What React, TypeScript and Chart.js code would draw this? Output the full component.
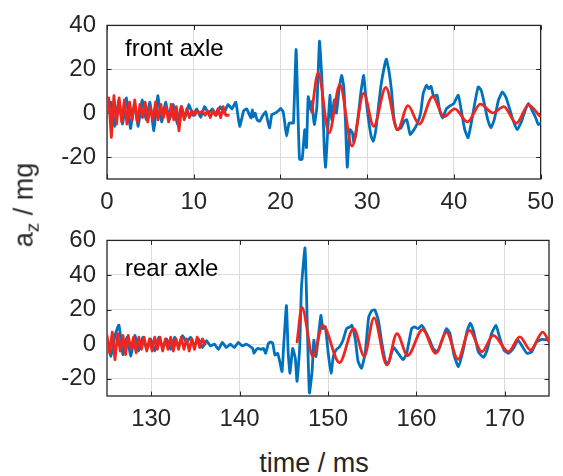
import React, { useEffect, useRef } from "react";
import { Chart, registerables } from "chart.js";

Chart.register(...registerables);

// ---------- DATA ----------
// front axle (top panel)
const frontXTicks = [0, 10, 20, 30, 40, 50];
const frontYTicks = [-20, 0, 20, 40];

const frontMeasTime = [
  0, 0.45, 0.9, 1.35, 1.8, 2.25, 2.7, 3.15, 3.6, 4.05, 4.5, 4.95, 5.4, 5.85, 6.3, 6.75, 7.2, 7.65,
  8.1, 8.55, 9.0, 9.45, 9.9, 10.35, 10.8, 11.25, 11.7, 12.15, 12.6, 13.05, 13.5, 13.95, 14.4, 14.85,
  15.3, 15.75, 16.1,
  16.6, 16.75, 16.9, 17.1, 17.3, 17.6, 17.9, 18.3, 18.5, 18.75, 19.0, 19.4, 19.8, 20.0, 20.3, 20.5,
  20.7, 21.0, 21.3, 21.5, 21.8, 22.0, 22.2, 22.5, 22.8, 23.0, 23.2, 23.5, 23.6, 23.9, 24.2, 24.5,
  24.8, 25.05, 25.2, 25.5, 25.7, 25.9, 26.2, 26.45, 26.75, 27.05, 27.3, 27.5, 27.7, 28.0, 28.3, 28.45,
  28.7, 29.0, 29.3, 29.6, 29.8, 30.1, 30.45, 30.7, 31.0, 31.3, 31.65, 32.2, 32.5, 32.8,
  33.1, 33.44, 33.9, 34.27, 34.57, 34.95, 35.4, 35.8, 36.16, 36.46, 36.84, 37.1, 37.37, 37.67, 38.05,
  38.35, 38.7, 39.1, 39.55, 40.0, 40.5, 40.9, 41.25, 41.63, 42.0, 42.4, 42.8, 43.14, 43.5, 43.9,
  44.27, 44.65, 45.14, 45.6, 45.97, 46.35, 46.8, 47.3, 47.8, 48.23, 48.6, 48.99, 49.37, 49.74, 50.04,
];
const frontMeasValue = [
  0, 5, -6, 6, -5, 7, -7, 4, -6, 6, -3, 5, -8, 8, -4, 5, -3, 4,
  -5, 3, -2, 4, -1, 2, -2, 3, 0, 2, -1, 3, 0, 4, 2, 5,
  -6, 1, 2,
  -2.2, 1.5, -1.5, 0, -3, -3.7, -1.5, 0.7, -3, -6.7, -0.7, 0, 1.2, 2.2, 0.7, -4.5,
  -10.4, -4.5, -4.5, -4.5, 29, 3, -21, -21, -7.5, -15.7, 7.5, 1.5, 5.2, -5.2, 3, 32.8,
  13.4, -16.4, -24.6, -4.5, 8.2, -3, 6, 0, 10.4, 17.2, 12, -4.5, -24.6, -7.5, -9, -13.4,
  -9, 0, 10.4, 17.2, 9, -1.5, -10.4, -12.7, -7.5, 3, 14.2, 24.6, 19.4, 10.4,
  -3, -7.5, -6.7, -3.7, -3, -9.7, -7.5, -4.5, 0, 9, 12.7, 11.2, 12.2, 7.5, 8.2,
  1.5, -2.2, 1.8, 3.3, 4.5, 8.2, 0, -7.5, -11.2, -4.5, 4.5, 12, 10.4, 4.5, -3,
  -6.7, -3, 6, 9.7, 7.5, 3, -3, -7.5, -3.7, 1.5, 4.5, 1.5, -1.5, -5.2, -4.5,
];

const frontModelEarlyTime = [
  0, 0.2, 0.5, 0.8, 1.1, 1.4, 1.7, 2.0, 2.3, 2.6, 2.9, 3.2, 3.5, 3.8, 4.1, 4.4, 4.7, 5.0,
  5.3, 5.6, 5.9, 6.2, 6.5, 6.8, 7.1, 7.4, 7.7, 8.0, 8.3, 8.6, 8.9, 9.2, 9.5, 9.8,
  10.1, 10.4, 10.7, 11.0, 11.3, 11.6, 11.9, 12.2, 12.5, 12.8, 13.1, 13.4, 13.7, 14.0,
];
const frontModelEarlyValue = [
  2, 7, -11, 8, -5, 7, -4, 6, -5, 5, -3, 6, -4, 4, -2, 5, -4, 3,
  -3, 5, -3, 4, -2, 3, -4, 4, -3, 3, -8, 3, -3, 2, -2, 1,
  -1, 1, 0, 1, -1, 1, -2, 1, -1, 2, -2, 3, -1, -1,
];
const frontModelLateTime = [
  23.6, 24.35, 25.6, 26.85, 28.25, 29.6, 30.75, 32.15, 33.5, 34.7, 36.0, 37.55, 38.85, 40.1, 41.55,
  43.05, 44.5, 45.75, 47.2, 48.6, 49.9,
];
const frontModelLateValue = [
  0.5, 18.3, -9, 13, -15, 9, -6, 11.8, -7.6, 3.4, -5, 7.5, -1.6, 2, -4,
  4.1, 0.1, 3, -4.6, 3.7, -1.3,
];

// rear axle (bottom panel)
const rearXTicks = [130, 140, 150, 160, 170];
const rearYTicks = [-20, 0, 20, 40, 60];

const rearMeasTime = [
  125, 125.45, 125.9, 126.35, 126.8, 127.25, 127.7, 128.15, 128.6, 129.05, 129.5, 129.95, 130.4,
  130.85, 131.3, 131.75, 132.2, 132.65, 133.1, 133.55, 134.0, 134.45, 134.9, 135.35, 135.8, 136.25,
  136.7, 137.15, 137.6, 138.05, 138.5, 138.95, 139.4, 139.85, 140.3, 140.75, 141.1,
  141.48, 141.63, 141.86, 142.1, 142.4, 142.7, 142.95, 143.26, 143.5, 143.75, 144.0, 144.3, 144.5,
  144.8, 145.0, 145.3, 145.5, 145.7, 146.0, 146.3, 146.5, 146.8, 147.0, 147.4, 147.7, 147.9, 148.2,
  148.4, 148.65, 148.9, 149.2, 149.4, 149.7, 150.05, 150.35, 150.6, 150.9, 151.3, 151.7, 152.1, 152.5,
  152.7, 153.1, 153.4, 153.8, 154.2, 154.6, 154.95, 155.3, 155.7, 156.1, 156.5, 156.85, 157.4, 157.9,
  158.5, 158.9, 159.46, 159.8, 160.2, 160.6, 160.97, 161.5, 161.9, 162.4, 162.9, 163.4, 163.8, 164.25,
  164.75, 165.3, 165.7, 166.1, 166.5, 167.0, 167.6, 168.0, 168.5, 169.0, 169.4, 169.9, 170.4, 170.97,
  171.5, 172.0, 172.5, 173.05, 173.6, 174.2, 175.05,
];
const rearMeasValue = [
  3, -7, 5, 11, -6, 4, -7, 5, -4, 4, -3, 3, -4,
  4, -2, 3, -3, 4, -1, 5, 1, 4, -1, 3, -2, 2,
  -1, 0, -3, 1, -2, 0, -2, 1, -1, 0, -1,
  -2.5, -5.3, -3.4, -2.5, -3, -2.5, -5.3, 0.4, 1.3, 0.4, -6.3, -5.3, -9.1,
  -15.8, 0.4, 22.3, -5.3, -16.8, -2.5, -8.2, -21.5, -1.5, 32.8, 55.6, 2.3, -28.2, -15.8,
  2.3, -7.2, 4.2, 16.6, 9, 10, -6.3, -16.8, -7.2, -3.4, -1.5, 2.3, 9, 10,
  10.9, 2.3, -10, -13.9, -5.3, 15.6, 19.4, 19.8, 13.7, 0.4, -10, -11, -2, -5,
  -9, -5.3, 9, 10, 9, 10.9, 8, 2.3, -2.5, -4.4, 2.3, 9, 6.1, -6.3,
  -13, -3.4, 7, 12.2, 7, -4.4, -7.6, -3.4, 6.1, 10.9, 4.2, -3.4, -5.3, -2.5,
  2.3, -1.5, -5.3, -4.4, 1.3, 2.7, 2.3,
];

const rearModelEarlyTime = [
  125, 125.3, 125.6, 125.9, 126.2, 126.5, 126.8, 127.1, 127.4, 127.7, 128.0, 128.3, 128.6, 128.9,
  129.2, 129.5, 129.8, 130.1, 130.4, 130.7, 131.0, 131.3, 131.6, 131.9, 132.2, 132.5, 132.8, 133.1,
  133.4, 133.7, 134.0, 134.3, 134.6, 134.9, 135.2, 135.5, 135.8, 136.1,
];
const rearModelEarlyValue = [
  5, -5, 7, -9, 6, -4, 5, -6, 5, -3, 4, -5, 4, -3,
  4, -4, 3, -4, 4, -3, 4, -4, 3, -3, 4, -4, 3, -3,
  4, -3, 3, -4, 3, -3, 4, -2, 3, 0,
];
const rearModelLateTime = [
  146.5, 147.05, 148.3, 149.4, 151.3, 152.9, 154.1, 155.2, 156.65, 157.8, 159.0, 160.7, 162.2,
  163.4, 164.7, 166.0, 167.4, 168.7, 170.4, 171.7, 172.9, 174.3, 175,
];
const rearModelLateValue = [
  1.3, 21.3, -7.2, 10.9, -10.7, 9, -6.9, 15.2, -12, 6.1, -6.6, 8.4, -5.3,
  7, -8.8, 8, -4.4, 5.1, -4.4, 4.2, -3.4, 7, 1.3,
];

// ---------- STYLE ----------
const FONT = "'Liberation Sans', Arial, Helvetica, sans-serif";
const BLUE = "#0072BD";
const RED = "#F0261E";
const GRID = "#dcdcdc";
const AXIS = "#262626";
const W = 563;
const LW = 2.8;

const pts = (t: number[], v: number[]) => t.map((x, i) => ({ x, y: v[i] }));

type PanelSpec = {
  measT: number[]; measV: number[];
  earlyT: number[]; earlyV: number[];
  lateT: number[]; lateV: number[];
  xMin: number; xMax: number; yMin: number; yMax: number;
  xTicks: number[]; yTicks: number[];
  label: string; labelDy: number;
  padTop: number; xAxisH: number; height: number;
};

function makeChart(canvas: HTMLCanvasElement, p: PanelSpec) {
  const boxPlugin = {
    id: "boxTicks",
    beforeDatasetsDraw(chart: any) {
      const { ctx, chartArea: a, scales } = chart;
      ctx.save();
      const L = 4.5;
      ctx.strokeStyle = AXIS;
      ctx.lineWidth = 1;
      ctx.beginPath();
      scales.x.ticks.forEach((t: any) => {
        const px = Math.round(scales.x.getPixelForValue(t.value)) + 0.5;
        ctx.moveTo(px, a.bottom); ctx.lineTo(px, a.bottom - L);
        ctx.moveTo(px, a.top); ctx.lineTo(px, a.top + L);
      });
      scales.y.ticks.forEach((t: any) => {
        const py = Math.round(scales.y.getPixelForValue(t.value)) + 0.5;
        ctx.moveTo(a.left, py); ctx.lineTo(a.left + L, py);
        ctx.moveTo(a.right, py); ctx.lineTo(a.right - L, py);
      });
      ctx.stroke();
      ctx.lineWidth = 1.3;
      ctx.strokeRect(a.left, a.top, a.right - a.left, a.bottom - a.top);
      ctx.restore();
    },
    afterDatasetsDraw(chart: any) {
      const { ctx, chartArea: a } = chart;
      ctx.save();
      ctx.fillStyle = "#000";
      ctx.font = `24px ${FONT}`;
      ctx.textBaseline = "alphabetic";
      ctx.textAlign = "left";
      ctx.fillText(p.label, a.left + 18, a.top + p.labelDy);
      ctx.restore();
    },
  };

  const tickFont = { family: FONT, size: 24 };
  const lineStyle = { borderWidth: LW, pointRadius: 0, fill: false, borderJoinStyle: "round", borderCapStyle: "round" };

  return new Chart(canvas, {
    type: "line",
    data: {
      datasets: [
        { ...lineStyle, data: pts(p.measT, p.measV), borderColor: BLUE, tension: 0.15, order: 2 },
        { ...lineStyle, data: pts(p.earlyT, p.earlyV), borderColor: RED, tension: 0, order: 1 },
        { ...lineStyle, data: pts(p.lateT, p.lateV), borderColor: RED, cubicInterpolationMode: "monotone", order: 1 },
      ],
    },
    options: {
      animation: false,
      responsive: false,
      maintainAspectRatio: false,
      events: [],
      layout: { padding: { top: p.padTop, right: 14, left: 0, bottom: 0 } },
      plugins: { legend: { display: false }, tooltip: { enabled: false } },
      scales: {
        x: {
          type: "linear",
          min: p.xMin,
          max: p.xMax,
          afterBuildTicks: (s: any) => { s.ticks = p.xTicks.map((v) => ({ value: v })); },
          afterFit: (s: any) => { s.height = p.xAxisH; },
          grid: { color: GRID, lineWidth: 1, drawTicks: false },
          border: { display: false },
          ticks: { padding: 9, font: tickFont, color: AXIS, maxRotation: 0, autoSkip: false },
        },
        y: {
          type: "linear",
          min: p.yMin,
          max: p.yMax,
          afterBuildTicks: (s: any) => { s.ticks = p.yTicks.map((v) => ({ value: v })); },
          afterFit: (s: any) => { s.width = 107; },
          grid: { color: GRID, lineWidth: 1, drawTicks: false },
          border: { display: false },
          ticks: { padding: 11, font: tickFont, color: AXIS, autoSkip: false },
        },
      },
    },
    plugins: [boxPlugin],
  } as any);
}

const topSpec: PanelSpec = {
  measT: frontMeasTime, measV: frontMeasValue,
  earlyT: frontModelEarlyTime, earlyV: frontModelEarlyValue,
  lateT: frontModelLateTime, lateV: frontModelLateValue,
  xMin: 0, xMax: 50, yMin: -30, yMax: 40,
  xTicks: frontXTicks, yTicks: frontYTicks,
  label: "front axle", labelDy: 31,
  padTop: 23, xAxisH: 36, height: 215,
};

const bottomSpec: PanelSpec = {
  measT: rearMeasTime, measV: rearMeasValue,
  earlyT: rearModelEarlyTime, earlyV: rearModelEarlyValue,
  lateT: rearModelLateTime, lateV: rearModelLateValue,
  xMin: 125, xMax: 175, yMin: -30, yMax: 60,
  xTicks: rearXTicks, yTicks: rearYTicks,
  label: "rear axle", labelDy: 36,
  padTop: 24, xAxisH: 49, height: 230,
};

function Panel({ spec, top }: { spec: PanelSpec; top: number }) {
  const ref = useRef<HTMLCanvasElement | null>(null);
  useEffect(() => {
    if (!ref.current) return;
    const c = makeChart(ref.current, spec);
    return () => c.destroy();
  }, [spec]);
  return (
    <canvas
      ref={ref}
      width={W}
      height={spec.height}
      style={{ position: "absolute", left: 0, top, width: W, height: spec.height, display: "block" }}
    />
  );
}

export default function App() {
  return (
    <div style={{ position: "fixed", left: 0, top: 0, width: W, height: 476, background: "#fff", overflow: "hidden" }}>
      <Panel spec={topSpec} top={0} />
      <Panel spec={bottomSpec} top={215} />
      <div
        style={{
          position: "absolute", left: 26, top: 205,
          transform: "translate(-50%, -50%) rotate(-90deg)",
          fontFamily: FONT, fontSize: 27, lineHeight: 1, color: AXIS, whiteSpace: "nowrap",
        }}
      >
        a<sub style={{ fontSize: 19, verticalAlign: "-0.3em" }}>z</sub> / mg
      </div>
      <div
        style={{
          position: "absolute", left: 314, top: 450,
          transform: "translateX(-50%)",
          fontFamily: FONT, fontSize: 27, lineHeight: 1, color: AXIS, whiteSpace: "nowrap",
        }}
      >
        time / ms
      </div>
    </div>
  );
}
